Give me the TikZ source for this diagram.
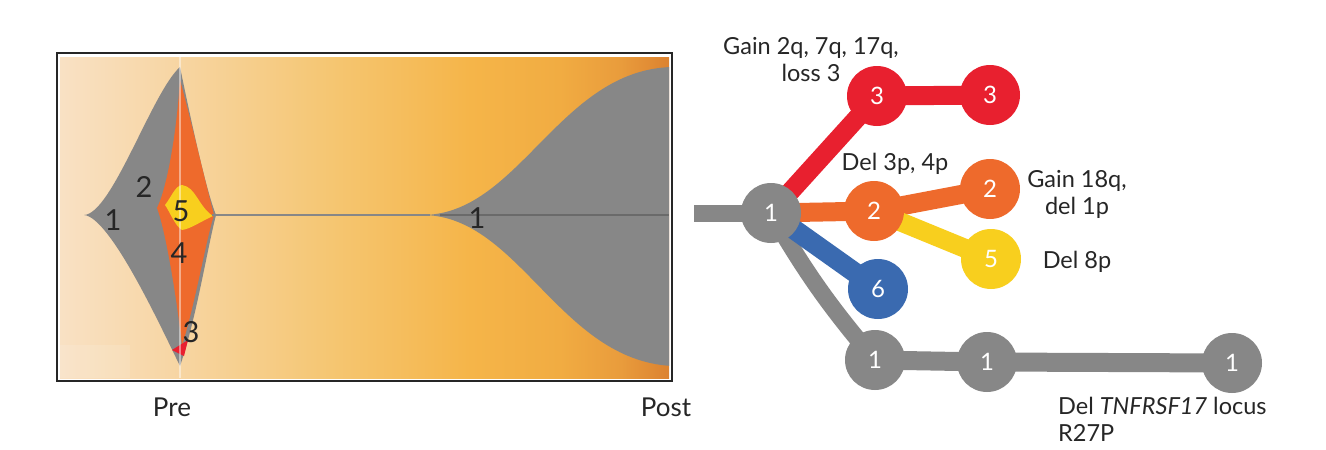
\documentclass[tikz,border=0pt]{standalone}
\usepackage{fontspec}
\setmainfont{Lato}
\usetikzlibrary{backgrounds}
\definecolor{cgray}{HTML}{878787}
\definecolor{cred}{HTML}{E8202F}
\definecolor{corange}{HTML}{EE6A2C}
\definecolor{cyellow}{HTML}{F8CF1E}
\definecolor{cblue}{HTML}{3A6AB0}
\definecolor{ctext}{HTML}{262626}
\definecolor{bga}{HTML}{F9E1C4}
\definecolor{bgb}{HTML}{F7D5A2}
\definecolor{bgc}{HTML}{F5C672}
\definecolor{bgd}{HTML}{F5B549}
\definecolor{bge}{HTML}{F1AC42}
\definecolor{bgf}{HTML}{E99C3C}
\definecolor{bgg}{HTML}{DC8230}
\pgfdeclarehorizontalshading{bgshade}{100bp}{color(0bp)=(bga); color(25bp)=(bga); color(34.85bp)=(bgb); color(47.2bp)=(bgc); color(58.66bp)=(bgd); color(66bp)=(bge); color(71bp)=(bgf); color(75bp)=(bgg); color(100bp)=(bgg)}
\tikzset{
  cl/.style={circle, minimum size=60pt, inner sep=0pt, text=white, font=\fontsize{24}{24}\selectfont},
  lbl/.style={text=ctext, font=\fontsize{23.5}{27}\selectfont, align=center, inner sep=0pt},
  fishlbl/.style={text=ctext, font=\fontsize{29}{29}\selectfont, inner sep=0pt},
  axlbl/.style={text=ctext, font=\fontsize{26}{26}\selectfont, inner sep=0pt},
  branch/.style={line width=19pt},
}
\begin{document}
\begin{tikzpicture}[x=1pt,y=-1pt]
\useasboundingbox (0,0) rectangle (1326,450);
% ---------- left panel: fish plot ----------
\fill[white] (57,53) rectangle (672,381);
\shade[shading=bgshade] (60,57) rectangle (669,378);
\fill[white, opacity=0.12] (60,345) rectangle (130,378);
\begin{scope}
\clip (60,57) rectangle (669,378);
% big gray clone 1 at Pre
\fill[cgray] (84,215) .. controls (112,214) and (152,92) .. (180,67)
  .. controls (192,125) and (206,190) .. (216,215)
  .. controls (207,250) and (196,320) .. (180,366)
  .. controls (160,325) and (110,217) .. (84,215) -- cycle;
% orange clone 2/4
\fill[corange] (180,80) .. controls (176,140) and (166,190) .. (157,208)
  .. controls (166,232) and (177,300) .. (182,346)
  .. controls (196,300) and (206,240) .. (214,215)
  .. controls (206,185) and (191,120) .. (180,80) -- cycle;
% yellow clone 5
\fill[cyellow] (165,205) .. controls (172,196) and (175,186) .. (182,185)
  .. controls (196,187) and (198,206) .. (213,216)
  .. controls (200,222) and (190,229) .. (182,230)
  .. controls (175,226) and (170,212) .. (165,205) -- cycle;
% red clone 3
\fill[cred] (172,350) -- (188,340) -- (184,356) -- cycle;
% thin line and expanding clone 1 at Post
\draw[cgray, line width=2pt] (212,215) -- (430,215);
\fill[cgray] (425,215) .. controls (520,212) and (560,70) .. (672,67)
  -- (672,366) .. controls (560,360) and (520,218) .. (425,215) -- cycle;
\draw[black!60!cgray, opacity=0.35, line width=1.2pt] (440,215) -- (669,215);
% vertical time marker
\draw[white, opacity=0.45, line width=1.5pt] (180,57) -- (180,378);
\end{scope}
\draw[black!85, line width=2pt] (57,53) rectangle (672,381);
\node[fishlbl] (f1) at (113,220) {1};
\node[fishlbl] (f2) at (144,187) {2};
\node[fishlbl] (f5) at (181,211) {5};
\node[fishlbl] (f4) at (179,253) {4};
\node[fishlbl] (f3) at (191,332) {3};
\node[fishlbl] (f1b) at (477,218) {1};
\node[axlbl] (pre) at (172,407) {Pre};
\node[axlbl] (post) at (666,407) {Post};
% ---------- right panel: tree ----------
\coordinate (stub) at (694,213);
\node[cl, fill=cgray]   (n1)  at (771,213) {1};
\node[cl, fill=cred]    (r1)  at (877,96)  {3};
\node[cl, fill=cred]    (r2)  at (990,95)  {3};
\node[cl, fill=corange] (o1)  at (874,211) {2};
\node[cl, fill=corange] (o2)  at (990,189) {2};
\node[cl, fill=cyellow] (y5)  at (991,259) {5};
\node[cl, fill=cblue]   (b6)  at (878,289) {6};
\node[cl, fill=cgray]   (g1)  at (875,360) {1};
\node[cl, fill=cgray]   (g2)  at (987,362) {1};
\node[cl, fill=cgray]   (g3)  at (1232,363) {1};
\begin{scope}[on background layer]
\draw[branch, cgray, line width=17pt] (stub) -- (n1.center);
\draw[branch, cred] (n1.center) -- (r1.center);
\draw[branch, cred] (r1.center) -- (r2.center);
\draw[branch, corange] (n1.center) -- (o1.center);
\draw[branch, corange] (o1.center) -- (o2.center);
\draw[branch, cyellow] (o1.center) -- (y5.center);
\draw[branch, cgray, line width=17pt] (n1.center) to[bend right=5] (g1.center);
\draw[branch, cblue, line width=20pt] (n1.center) -- (b6.center);
\draw[branch, cgray] (g1.center) -- (g2.center);
\draw[branch, cgray] (g2.center) -- (g3.center);
\end{scope}
\node[lbl] (lr) at (811,60) {Gain 2q, 7q, 17q,\\loss 3};
\node[lbl] (lo) at (895,164) {Del 3p, 4p};
\node[lbl] (lo2) at (1077,194) {Gain 18q,\\del 1p};
\node[lbl] (ly) at (1077,262) {Del 8p};
\node[lbl, align=left, anchor=north west] (lg) at (1058,397) {Del \textit{TNFRSF17} locus\\R27P};
\end{tikzpicture}
\end{document}
